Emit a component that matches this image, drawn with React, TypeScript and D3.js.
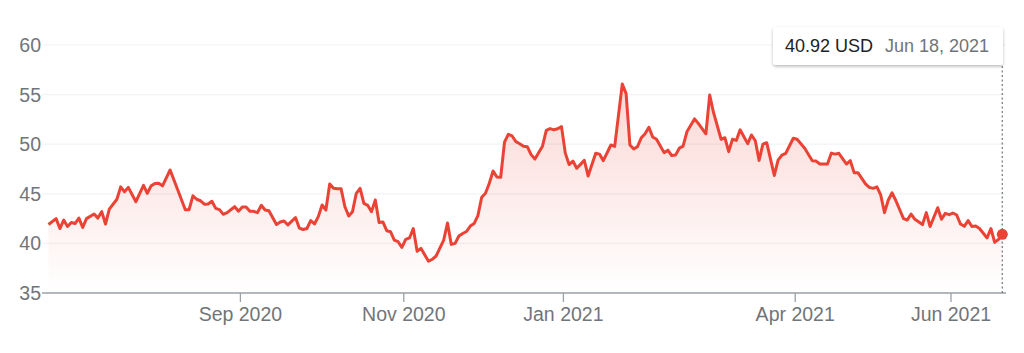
import React from "react";
import * as d3 from "d3";

// trading-day number (0 = Jun 19, 2020) and closing price in USD
const tradingDay = [
  0, 2, 3, 4, 5, 6, 7, 8, 9, 10, 12, 13, 14, 15, 16, 18, 19, 20, 21, 23, 25, 26, 27, 28, 29, 30, 32, 34, 36, 37, 38, 39, 40,
  41, 42, 43, 44, 45, 46, 47, 49, 50, 51, 52, 53, 54, 55, 56, 57, 58, 60, 61, 62, 63, 65, 66, 67, 68, 69, 70, 71, 72, 73,
  74, 75, 76, 77, 78, 79, 80, 81, 82, 83, 84, 85, 86, 87, 88, 89, 90, 91, 92, 93, 94, 95, 96, 97, 98, 100, 101, 102, 104,
  105, 106, 107, 108, 109, 110, 111, 112, 113, 114, 115, 116, 117, 118, 119, 120, 121, 122, 123, 124, 125, 126, 127, 128,
  130, 131, 132, 133, 134, 135, 136, 137, 138, 139, 140, 141, 142, 144, 145, 146, 148, 149, 151, 152, 153, 154, 155, 156,
  157, 158, 159, 160, 162, 163, 164, 165, 166, 167, 168, 170, 171, 173, 174, 175, 177, 178, 179, 180, 181, 182, 183, 184,
  185, 186, 187, 188, 189, 191, 192, 193, 194, 196, 197, 199, 201, 202, 203, 205, 206, 207, 208, 210, 211, 212, 213, 215,
  216, 217, 218, 219, 220, 221, 222, 223, 225, 226, 227, 228, 230, 231, 232, 234, 235, 236, 237, 238, 239, 240, 241, 242,
  243, 244, 245, 247, 248, 249, 250, 251,
];
const closePrice = [
  41.9, 42.5, 41.5, 42.35, 41.7, 42.1, 42.0, 42.55, 41.6, 42.5, 42.96, 42.55, 43.2, 41.95, 43.45, 44.45, 45.7, 45.2, 45.65,
  44.2, 45.85, 45.05, 45.8, 46.03, 46.06, 45.8, 47.4, 45.4, 43.4, 43.4, 44.8, 44.45, 44.3, 43.95, 43.97, 44.25, 43.53, 43.4,
  42.93, 43.1, 43.7, 43.25, 43.67, 43.67, 43.23, 43.23, 43.1, 43.84, 43.37, 43.3, 41.9, 42.16, 42.26, 41.86, 42.6, 41.55,
  41.4, 41.5, 42.3, 41.96, 42.7, 43.87, 43.37, 45.99, 45.55, 45.5, 45.5, 43.7, 42.76, 43.2, 45.05, 45.55, 44.04, 43.84,
  43.2, 44.37, 42.1, 42.16, 41.28, 41.18, 40.34, 40.17, 39.6, 40.4, 40.55, 41.5, 39.2, 39.5, 38.2, 38.4, 38.73, 40.34,
  42.05, 39.9, 40.0, 40.75, 41.0, 41.2, 41.75, 42.0, 42.8, 44.65, 45.05, 46.06, 47.3, 46.7, 46.67, 50.2, 51.0, 50.83,
  50.26, 50.05, 49.8, 49.75, 48.95, 48.5, 49.8, 51.4, 51.57, 51.45, 51.55, 51.77, 49.1, 47.95, 48.3, 47.57, 47.97, 48.38,
  46.8, 49.08, 49.0, 48.34, 49.92, 49.78, 56.07, 55.1, 49.92, 49.53, 49.75, 50.65, 51.05, 51.7, 50.73, 50.5, 49.15, 49.4,
  48.85, 48.9, 49.6, 49.8, 51.25, 52.55, 52.1, 51.05, 54.96, 53.2, 50.5, 50.65, 49.25, 50.5, 50.38, 51.45, 50.76, 50.06,
  50.93, 50.35, 48.37, 50.0, 50.15, 46.85, 48.4, 48.9, 49.08, 50.6, 50.5, 49.6, 48.34, 48.3, 48.0, 48.0, 49.1, 49.0,
  49.08, 48.0, 48.34, 47.13, 47.13, 46.0, 45.65, 45.55, 45.7, 44.88, 43.1, 44.37, 45.1, 44.3, 42.5, 42.36, 42.96, 42.43,
  41.9, 43.1, 41.7, 43.6, 42.43, 43.03, 42.9, 43.06, 42.86, 41.95, 41.72, 42.3, 41.7, 41.75, 41.5, 40.55, 41.5, 40.1,
  40.4, 40.92,
];

// x-axis labels at the first trading day of each month shown
const monthLabels = ["Sep 2020", "Nov 2020", "Jan 2021", "Apr 2021", "Jun 2021"];
const monthFirstDay = [51, 94, 136, 197, 238];
const priceTicks = [35, 40, 45, 50, 55, 60];

const tooltipPrice = "40.92 USD";
const tooltipDate = "Jun 18, 2021";

const FONT = "Arial, 'Liberation Sans', Helvetica, sans-serif";
const RED = "#ea4335";
const GRAY = "#70757a";

export default function App() {
  const W = 1024;
  const H = 353;
  const x = d3.scaleLinear().domain([0, 251]).range([48.5, 1002.3]);
  const y = d3.scaleLinear().domain([35, 60]).range([293, 45]);

  const pts = tradingDay.map((d, i) => [d, closePrice[i]] as [number, number]);
  const line = d3
    .line<[number, number]>()
    .x((d) => x(d[0]))
    .y((d) => y(d[1]));
  const area = d3
    .area<[number, number]>()
    .x((d) => x(d[0]))
    .y0(y(35))
    .y1((d) => y(d[1]));

  const lastDay = tradingDay[tradingDay.length - 1];
  const lastPrice = closePrice[closePrice.length - 1];
  const gx0 = 42;
  const gx1 = 1006;

  return (
    <svg
      width={W}
      height={H}
      style={{ position: "absolute", left: 0, top: 0, background: "#fff" }}
      fontFamily={FONT}
    >
      <defs>
        <linearGradient id="fillGrad" gradientUnits="userSpaceOnUse" x1="0" y1={y(57)} x2="0" y2={y(35)}>
          <stop offset="0" stopColor={RED} stopOpacity={0.22} />
          <stop offset="1" stopColor={RED} stopOpacity={0} />
        </linearGradient>
        <filter id="shadow" x="-10%" y="-30%" width="120%" height="180%">
          <feDropShadow dx="0" dy="1.5" stdDeviation="1.5" floodColor="#000" floodOpacity="0.28" />
        </filter>
      </defs>

      {priceTicks.slice(1).map((t) => (
        <line key={t} x1={gx0} x2={gx1} y1={y(t)} y2={y(t)} stroke="#f1f3f4" strokeWidth={1.2} />
      ))}

      {priceTicks.map((t) => (
        <text
          key={"l" + t}
          x={41}
          y={y(t)}
          textAnchor="end"
          dominantBaseline="central"
          fontSize={19.5}
          fill={GRAY}
        >
          {t}
        </text>
      ))}

      <path d={area(pts) || ""} fill="url(#fillGrad)" />
      <path d={line(pts) || ""} fill="none" stroke={RED} strokeWidth={3} strokeLinejoin="round" />

      <line x1={gx0} x2={gx1} y1={y(35)} y2={y(35)} stroke="#9aa0a6" strokeWidth={1.3} />
      {monthFirstDay.map((d, i) => (
        <g key={monthLabels[i]} transform={`translate(${x(d - 0.5)},0)`}>
          <line y1={y(35)} y2={y(35) + 9} stroke="#9aa0a6" strokeWidth={1.3} />
          <text y={321} textAnchor="middle" fontSize={19.5} fill={GRAY}>
            {monthLabels[i]}
          </text>
        </g>
      ))}

      <line
        x1={x(lastDay)}
        x2={x(lastDay)}
        y1={66}
        y2={y(35)}
        stroke="#80868b"
        strokeWidth={1.4}
        strokeDasharray="2,2.5"
      />
      <circle cx={x(lastDay)} cy={y(lastPrice)} r={5.5} fill={RED} />

      <g>
        <rect x={773} y={27} width={230} height={38} rx={3} fill="#fff" filter="url(#shadow)" />
        <text x={785} y={52} fontSize={18} fill="#202124">
          {tooltipPrice}
        </text>
        <text x={989} y={52} fontSize={18} fill={GRAY} textAnchor="end">
          {tooltipDate}
        </text>
      </g>
    </svg>
  );
}
